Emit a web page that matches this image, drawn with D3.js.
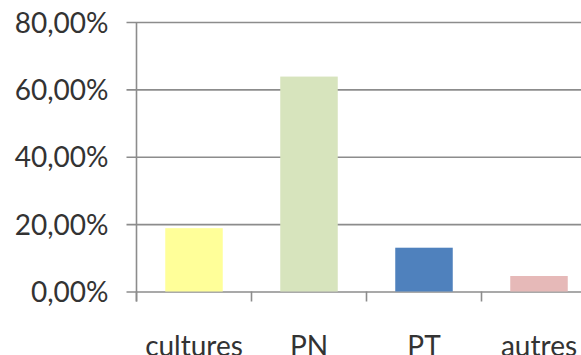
<!DOCTYPE html>
<html>
<head>
<meta charset="utf-8">
<script src="https://cdn.jsdelivr.net/npm/d3@7"></script>
<style>
  html, body { margin: 0; padding: 0; background: #fff; }
  svg { display: block; }
</style>
</head>
<body>
<svg id="chart" width="581" height="355"></svg>
<script>
// Share of each land-use category
const categories = ["cultures", "PN", "PT", "autres"];
const values = [0.188, 0.638, 0.130, 0.046];
const colors = ["#ffff99", "#d7e4bd", "#4f81bd", "#e6b9b8"];
const yTicks = [0, 0.2, 0.4, 0.6, 0.8];

const svg = d3.select("#chart");
const plotLeft = 136.5, plotTop = 22, plotBottom = 291.5, step = 115;
const fontFamily = "Lato, 'Open Sans', sans-serif";
const fontSize = "28px";

const x = d3.scaleBand()
  .domain(categories)
  .range([plotLeft, plotLeft + step * categories.length])
  .paddingInner(0.5)
  .paddingOuter(0.25);

const y = d3.scaleLinear().domain([0, 0.8]).range([plotBottom, plotTop]);

const fmt = v => d3.format(".2f")(v * 100).replace(".", ",") + "%";

// Horizontal gridlines with the value axis labels
const yAxis = d3.axisLeft(y)
  .tickValues(yTicks)
  .tickFormat(fmt)
  .tickSize(-(x.range()[1] - plotLeft))
  .tickPadding(28);

const gy = svg.append("g").attr("transform", `translate(${plotLeft},0)`).call(yAxis);
gy.select(".domain").remove();
gy.selectAll(".tick line")
  .attr("x1", -10)
  .attr("stroke", "#8c8c8c")
  .attr("stroke-width", 1.6);
gy.selectAll(".tick text")
  .attr("fill", "#333333")
  .attr("dy", "0.36em")
  .style("font-family", fontFamily)
  .style("font-size", fontSize);

// Bars
svg.append("g").selectAll("rect")
  .data(categories)
  .join("rect")
  .attr("x", d => x(d))
  .attr("width", x.bandwidth())
  .attr("y", (d, i) => y(values[i]))
  .attr("height", (d, i) => y(0) - y(values[i]))
  .attr("fill", (d, i) => colors[i]);

// Vertical value axis line
svg.append("line")
  .attr("x1", plotLeft).attr("x2", plotLeft)
  .attr("y1", plotTop).attr("y2", plotBottom + 10)
  .attr("stroke", "#8c8c8c")
  .attr("stroke-width", 1.6);

// Category axis: tick marks between categories and labels below
const xAxis = d3.axisBottom(x).tickSize(0);
const gx = svg.append("g").attr("transform", `translate(0,${plotBottom})`).call(xAxis);
gx.select(".domain").remove();
gx.selectAll(".tick text")
  .attr("y", 64)
  .attr("dy", null)
  .attr("fill", "#333333")
  .style("font-family", fontFamily)
  .style("font-size", fontSize);

svg.append("g").selectAll("line")
  .data(d3.range(categories.length + 1))
  .join("line")
  .attr("x1", i => plotLeft + i * step)
  .attr("x2", i => plotLeft + i * step)
  .attr("y1", plotBottom)
  .attr("y2", plotBottom + 10)
  .attr("stroke", "#8c8c8c")
  .attr("stroke-width", 1.6);
</script>
</body>
</html>
